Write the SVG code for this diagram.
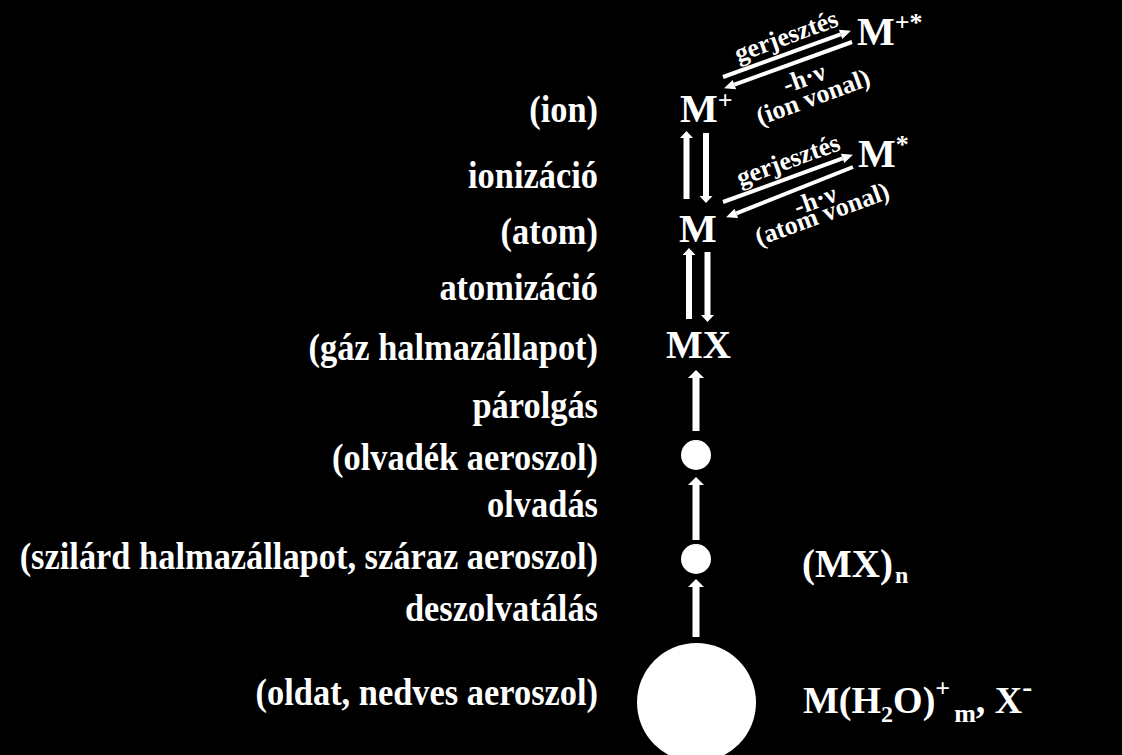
<svg xmlns="http://www.w3.org/2000/svg" width="1122" height="755" viewBox="0 0 1122 755">
<style>
text{font-family:"Liberation Serif","Times New Roman",serif;font-weight:bold;fill:#fff}
.lab{font-size:37px;text-anchor:end}
.big{font-size:40px}
.sm{font-size:26px;text-anchor:middle}
.sup{font-size:26px}
.sub{font-size:24px}
.blk{fill:#fff}
.dl{stroke:#fff;stroke-width:4;fill:none;marker-end:url(#ah)}
</style>
<defs>
<marker id="ah" markerUnits="userSpaceOnUse" markerWidth="11" markerHeight="10" refX="0" refY="5" orient="auto" viewBox="0 0 11 10" overflow="visible">
<path d="M0,0 L11,5 L0,10 z" fill="#fff"/>
</marker>
</defs>
<rect width="1122" height="755" fill="#000"/>

<g id="labels">
<text class="lab" transform="translate(598 122) scale(0.93 1)">(ion)</text>
<text class="lab" transform="translate(598 188) scale(0.93 1)">ionizáció</text>
<text class="lab" transform="translate(598 244) scale(0.93 1)">(atom)</text>
<text class="lab" transform="translate(598 300) scale(0.93 1)">atomizáció</text>
<text class="lab" transform="translate(598 360) scale(0.93 1)">(gáz halmazállapot)</text>
<text class="lab" transform="translate(598 418) scale(0.93 1)">párolgás</text>
<text class="lab" transform="translate(598 470) scale(0.93 1)">(olvadék aeroszol)</text>
<text class="lab" transform="translate(598 517) scale(0.93 1)">olvadás</text>
<text class="lab" transform="translate(598 569) scale(0.93 1)">(szilárd halmazállapot, száraz aeroszol)</text>
<text class="lab" transform="translate(598 621) scale(0.93 1)">deszolvatálás</text>
<text class="lab" transform="translate(598 705) scale(0.93 1)">(oldat, nedves aeroszol)</text>
</g>

<g id="node-ion-excited"><text class="big" x="857" y="45">M<tspan class="sup" dy="-14">+*</tspan></text></g>
<g id="node-ion"><text class="big" x="680" y="122">M<tspan class="sup" dy="-13">+</tspan></text></g>
<g id="node-atom-excited"><text class="big" x="858" y="167">M<tspan class="sup" dy="-14">*</tspan></text></g>
<g id="node-atom"><text class="big" x="679" y="242">M</text></g>
<g id="node-gas"><text class="big" x="666" y="358" style="font-size:39px">MX</text></g>
<g id="node-melt"><circle cx="696" cy="455" r="15" fill="#fff"/></g>
<g id="node-solid"><circle cx="696" cy="559" r="15" fill="#fff"/>
<text class="big" x="802" y="577" style="font-size:39px">(MX)<tspan class="sub" dy="6" dx="2">n</tspan></text></g>
<g id="node-solution"><circle cx="696.5" cy="702.5" r="59.5" fill="#fff"/>
<text class="big" x="803" y="713" style="font-size:38px">M(H<tspan class="sub" dy="9">2</tspan><tspan dy="-9">O)</tspan><tspan class="sup" dy="-16">+</tspan><tspan class="sup" dy="25" dx="4">m</tspan><tspan dy="-9">, X</tspan><tspan class="sup" dy="-16" style="font-size:30px">-</tspan></text></g>

<g id="connectors">
<polygon class="blk" points="686.5,131 693,138 689.5,138 689.5,199 683.5,199 683.5,138 680,138"/>
<polygon class="blk" points="706,203 712.5,196 709,196 709,133 703,133 703,196 699.5,196"/>
<polygon class="blk" points="689,248 695.5,255 692,255 692,319 686,319 686,255 682.5,255"/>
<polygon class="blk" points="707.5,322 714,315 710.5,315 710.5,252 704.5,252 704.5,315 701,315"/>
<polygon class="blk" points="696,370 704,378 699.5,378 699.5,431 692.5,431 692.5,378 688,378"/>
<polygon class="blk" points="696,477 704,485 699.5,485 699.5,540 692.5,540 692.5,485 688,485"/>
<polygon class="blk" points="696,579 704,587 699.5,587 699.5,637 692.5,637 692.5,587 688,587"/>
<line class="dl" x1="723" y1="77" x2="840.6" y2="34.4"/>
<line class="dl" x1="852" y1="42" x2="734.4" y2="84.6"/>
<line class="dl" x1="723" y1="202" x2="842.6" y2="158.4"/>
<line class="dl" x1="853" y1="167" x2="736.3" y2="213.3"/>
<text class="sm" transform="translate(789 44) rotate(-20)">gerjesztés</text>
<text class="sm" transform="translate(807 86) rotate(-20)">-h·ν</text>
<text class="sm" transform="translate(816 105) rotate(-20)">(ion vonal)</text>
<text class="sm" transform="translate(791 168) rotate(-20)">gerjesztés</text>
<text class="sm" transform="translate(818 208) rotate(-20)">-h·ν</text>
<text class="sm" transform="translate(825 222) rotate(-20)">(atom vonal)</text>
</g>
</svg>
